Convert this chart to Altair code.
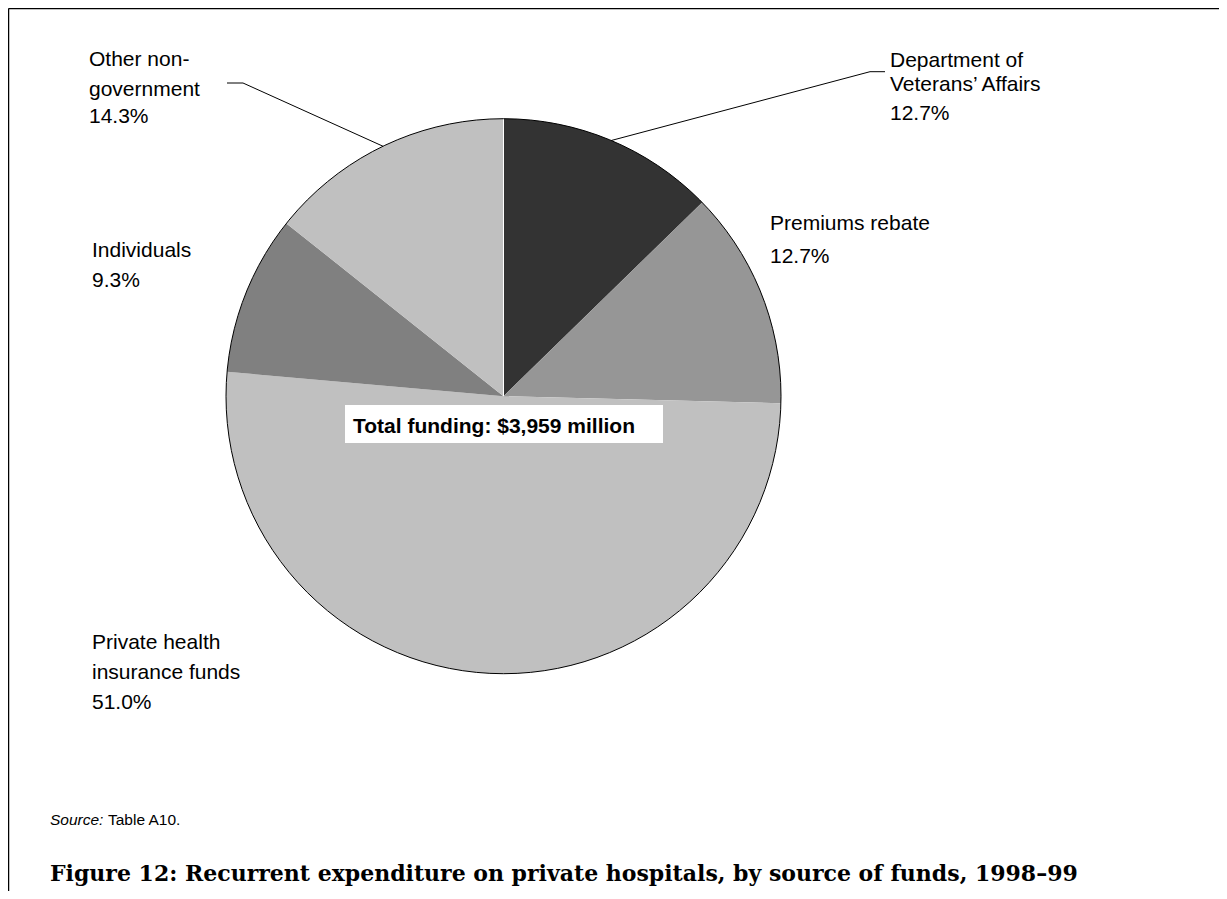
import math
import altair as alt
import pandas as pd

# ---------------- data ----------------
categories = ["Department of Veterans’ Affairs", "Premiums rebate",
              "Private health insurance funds", "Individuals", "Other non-government"]
shares = [12.7, 12.7, 51.0, 9.3, 14.3]
slice_colors = ["#333333", "#969696", "#c0c0c0", "#808080", "#c0c0c0"]
label_names = [["Department of", "Veterans’ Affairs"], ["Premiums rebate"],
               ["Private health", "insurance funds"], ["Individuals"],
               ["Other non-", "government"]]
total_text = "Total funding: $3,959 million"
source_label = "Source:"
source_text = "Table A10."
caption = "Figure 12: Recurrent expenditure on private hospitals, by source of funds, 1998–99"

# ---------------- layout (page px, minus 8px page margin) ----------------
W, H = 1211, 883
OFF = 8
CX, CY, R = 503.5 - OFF, 396.2 - OFF, 277.5
label_x = [890, 770, 92, 92, 89]
label_baselines = [[66.7, 91, 120], [230, 262.7], [649, 679, 709],
                   [256.7, 286.7], [65.7, 96, 123.3]]
leader_tail = {0: [(870, 71.7), (885, 71.7)], 4: [(243, 83), (227, 83)]}

xs = alt.Scale(domain=[0, W], nice=False, zero=False)
ys = alt.Scale(domain=[0, H], nice=False, zero=False, reverse=True)

# slices
pie_df = pd.DataFrame({"category": categories, "share": shares,
                       "order": list(range(len(categories)))})
pie = alt.Chart(pie_df).mark_arc(radius=R).encode(
    theta=alt.Theta("share:Q", stack=True),
    color=alt.Color("category:N", scale=alt.Scale(domain=categories, range=slice_colors),
                    legend=None),
    order=alt.Order("order:Q"),
    x=alt.value(CX), y=alt.value(CY),
)

outline = alt.Chart(pd.DataFrame({"share": [sum(shares)]})).mark_arc(
    radius=R, fillOpacity=0, stroke="black", strokeWidth=1
).encode(theta=alt.Theta("share:Q", stack=True), x=alt.value(CX), y=alt.value(CY))

# white seam at the top boundary
seam = alt.Chart(pd.DataFrame({"x": [CX], "y": [CY], "y2": [CY - R]})).mark_rule(
    color="white", strokeWidth=1
).encode(x=alt.X("x:Q", scale=xs, axis=None), y=alt.Y("y:Q", scale=ys, axis=None), y2="y2:Q")

# labels
rows = []
for i, cat in enumerate(categories):
    lines = label_names[i] + [f"{shares[i]:.1f}%"]
    for j, t in enumerate(lines):
        rows.append({"text": t, "x": label_x[i] - OFF, "y": label_baselines[i][j] - OFF})
lab_df = pd.DataFrame(rows)
labels = alt.Chart(lab_df).mark_text(
    align="left", baseline="alphabetic", font="Liberation Sans", fontSize=21, color="black"
).encode(x=alt.X("x:Q", scale=xs, axis=None), y=alt.Y("y:Q", scale=ys, axis=None), text="text:N")

# leader lines
lrows = []
cum = 0.0
total = sum(shares)
for i, s in enumerate(shares):
    mid = (cum + s / 2) / total * 2 * math.pi
    cum += s
    if i in leader_tail:
        pts = [(CX + R * math.sin(mid), CY - R * math.cos(mid))] + \
              [(px - OFF, py - OFF) for px, py in leader_tail[i]]
        for k, (px, py) in enumerate(pts):
            lrows.append({"id": i, "seq": k, "x": px, "y": py})
leaders = alt.Chart(pd.DataFrame(lrows)).mark_line(color="black", strokeWidth=1).encode(
    x=alt.X("x:Q", scale=xs, axis=None), y=alt.Y("y:Q", scale=ys, axis=None),
    detail="id:N", order="seq:Q")

# total funding box
box = alt.Chart(pd.DataFrame({"x": [345 - OFF], "x2": [663 - OFF],
                              "y": [405 - OFF], "y2": [443 - OFF]})).mark_rect(
    fill="white").encode(x=alt.X("x:Q", scale=xs, axis=None), x2="x2:Q",
                         y=alt.Y("y:Q", scale=ys, axis=None), y2="y2:Q")
total_lab = alt.Chart(pd.DataFrame({"text": [total_text], "x": [353 - OFF], "y": [433 - OFF]})).mark_text(
    align="left", baseline="alphabetic", font="Liberation Sans", fontSize=21,
    fontWeight="bold", color="black"
).encode(x=alt.X("x:Q", scale=xs, axis=None), y=alt.Y("y:Q", scale=ys, axis=None), text="text:N")

# source
src1 = alt.Chart(pd.DataFrame({"text": [source_label], "x": [50 - OFF], "y": [825 - OFF]})).mark_text(
    align="left", baseline="alphabetic", font="Liberation Sans", fontSize=15.5,
    fontStyle="italic", color="black"
).encode(x=alt.X("x:Q", scale=xs, axis=None), y=alt.Y("y:Q", scale=ys, axis=None), text="text:N")
src2 = alt.Chart(pd.DataFrame({"text": [source_text], "x": [108 - OFF], "y": [825 - OFF]})).mark_text(
    align="left", baseline="alphabetic", font="Liberation Sans", fontSize=15.5, color="black"
).encode(x=alt.X("x:Q", scale=xs, axis=None), y=alt.Y("y:Q", scale=ys, axis=None), text="text:N")

cap = alt.Chart(pd.DataFrame({"text": [caption], "x": [50 - OFF], "y": [881 - OFF]})).mark_text(
    align="left", baseline="alphabetic", font="DejaVu Serif", fontSize=22,
    fontWeight="bold", color="black"
).encode(x=alt.X("x:Q", scale=xs, axis=None), y=alt.Y("y:Q", scale=ys, axis=None), text="text:N")

# frame lines
frame = alt.Chart(pd.DataFrame({"x": [0.5, 0.5], "x2": [W, 0.5],
                                "y": [0.5, 0.5], "y2": [0.5, H]})).mark_rule(
    color="black", strokeWidth=1.5
).encode(x=alt.X("x:Q", scale=xs, axis=None), x2="x2:Q",
         y=alt.Y("y:Q", scale=ys, axis=None), y2="y2:Q")

chart = alt.layer(pie, seam, outline, box, total_lab, labels, leaders, src1, src2, cap, frame).resolve_scale(
    theta="independent"
).properties(
    width=W, height=H, padding=0, autosize=alt.AutoSizeParams(type="none"), background="white"
).configure_view(stroke=None)

chart.save("out.html", embed_options={"renderer": "svg", "actions": False})
